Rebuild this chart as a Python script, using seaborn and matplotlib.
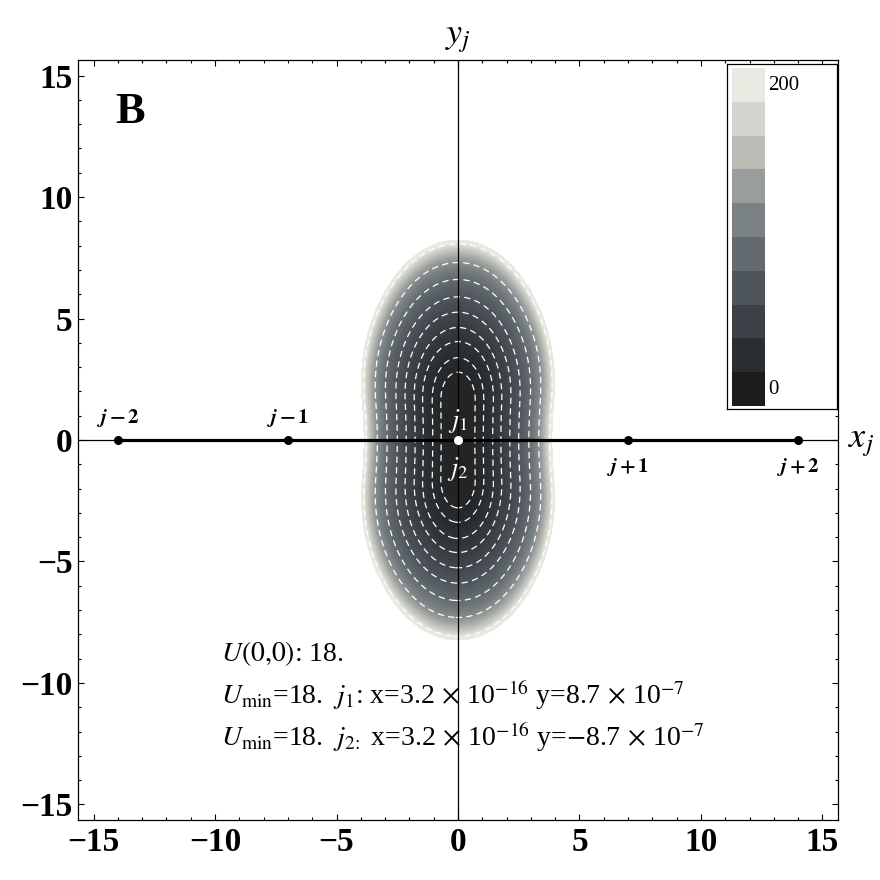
import numpy as np
import matplotlib
matplotlib.use('Agg')
import matplotlib.pyplot as plt
from matplotlib.colors import LinearSegmentedColormap
from matplotlib.ticker import MultipleLocator
import seaborn as sns

# chain sites on the x axis
site_x = [-14, -7, 0, 7, 14]
site_y = [0, 0, 0, 0, 0]
side_labels = [r'$\mathbfit{j}\,\mathbf{-\,2}$', r'$\mathbfit{j}\,\mathbf{-\,1}$',
               r'$\mathbfit{j}\,\mathbf{+\,1}$', r'$\mathbfit{j}\,\mathbf{+\,2}$']

U0 = 18.0
U_cut = 200.0
core_half = 1.6
y_stretch = 1.62
k_quad = 7.2
wall = 64.0
r_wall = 4.1
waist = 0.06
# half widths of the dashed rings, measured at y = -1
ring_halfwidth = [0.70, 1.05, 1.44, 1.78, 2.15, 2.52, 2.94, 3.35, 3.80]

# colour bar (GrayTones)
cbar_levels = [0, 20, 40, 60, 80, 100, 120, 140, 160, 180, 200]
gray_tones = ['#1c1c1c', '#2a2e31', '#3d4248', '#4e555b', '#636b70',
              '#7b8283', '#999e9c', '#babbb5', '#d3d4ce', '#e8e9e0']

ticks = [-15, -10, -5, 0, 5, 10, 15]
tick_labels = ['\u221215', '\u221210', '\u22125', '0', '5', '10', '15']

info_lines = [
    r'$U(\mathit{0{,}0})$: 18.',
    r'$U_{\mathrm{min}}$=18.  $j_1$: x=3.2$\,\times\,$10$^{-16}$ y=8.7$\,\times\,$10$^{-7}$',
    r'$U_{\mathrm{min}}$=18.  $j_{2\!:}$ x=3.2$\,\times\,$10$^{-16}$ y=$-$8.7$\,\times\,$10$^{-7}$',
]


def potential(x, y):
    xs = x * (1 + waist * np.exp(-(y / 2.5) ** 2))
    ys = np.clip(np.abs(y) - core_half, 0, None) / y_stretch
    d = np.hypot(xs, ys)
    return U0 + k_quad * d ** 2 + wall * (d / r_wall) ** 12


sns.set_style('ticks')
plt.rcParams['font.family'] = ['Liberation Serif', 'DejaVu Serif']
plt.rcParams['mathtext.fontset'] = 'stix'
for key in ['text.color', 'xtick.color', 'ytick.color', 'axes.labelcolor', 'axes.edgecolor']:
    plt.rcParams[key] = 'black'

cmap = LinearSegmentedColormap.from_list(
    'graytones',
    [(0, gray_tones[0])] + [((i + 0.5) / 10, c) for i, c in enumerate(gray_tones)] + [(1, gray_tones[-1])])

fig = plt.figure(figsize=(8.8, 8.8), dpi=100)
ax = fig.add_axes([78 / 880, 60 / 880, 760 / 880, 760 / 880])
lim = 15.64

xg = np.linspace(-5, 5, 801)
yg = np.linspace(-9.5, 9.5, 1201)
X, Y = np.meshgrid(xg, yg)
U = potential(X, Y)

cf = ax.contourf(X, Y, U, levels=np.linspace(0, U_cut, 101), cmap=cmap, vmin=0, vmax=U_cut, zorder=1)
cf.set_edgecolor('face')
cf.set_linewidth(0.3)

ring_levels = sorted(potential(np.array(ring_halfwidth), -1.0))
ax.contour(X, Y, U, levels=ring_levels, colors='white', linewidths=0.9,
           linestyles=[(0, (5, 3.5))], zorder=2)

ax.axhline(0, color='black', lw=0.9, zorder=3)
ax.axvline(0, color='black', lw=0.9, zorder=3)

sns.lineplot(x=site_x, y=site_y, color='black', linewidth=2.3, sort=False, ax=ax, zorder=4)
outer_x = [v for v in site_x if v != 0]
sns.scatterplot(x=outer_x, y=[0] * len(outer_x), color='black', s=42, edgecolor='black',
                linewidth=0, ax=ax, zorder=5)
sns.scatterplot(x=[0], y=[0], color='white', s=42, edgecolor='white', linewidth=0, ax=ax, zorder=6)

for xv, lab in zip(outer_x, side_labels):
    if xv < 0:
        ax.text(xv, 0.68, lab, ha='center', va='baseline', fontsize=15, zorder=7)
    else:
        ax.text(xv, -1.33, lab, ha='center', va='baseline', fontsize=15, zorder=7)

ax.text(0, 0.55, r'$j_1$', color='white', ha='center', va='baseline', fontsize=19, zorder=7)
ax.text(0, -1.45, r'$j_2$', color='white', ha='center', va='baseline', fontsize=19, zorder=7)

ax.text(-13.5, 13.5, 'B', fontsize=32, fontweight='bold', ha='center', va='center')

for i, line in enumerate(info_lines):
    ax.text(-9.75, -9.1 - 1.75 * i, line, fontsize=20, ha='left', va='baseline')

ax.text(0, 16.34, r'$y_j$', fontsize=26, ha='center', va='baseline', clip_on=False)
ax.text(16.05, -0.3, r'$x_j$', fontsize=26, ha='left', va='baseline', clip_on=False)

ax.set_xlim(-lim, lim)
ax.set_ylim(-lim, lim)
ax.set_xticks(ticks, labels=tick_labels, fontweight='bold', fontsize=24)
ax.set_yticks(ticks, labels=tick_labels, fontweight='bold', fontsize=24)
ax.xaxis.set_minor_locator(MultipleLocator(1))
ax.yaxis.set_minor_locator(MultipleLocator(1))
ax.tick_params(which='both', direction='in', top=True, right=True, width=0.8, color='black',
               labelcolor='black')
ax.tick_params(which='major', length=4.5)
ax.tick_params(which='minor', length=2.3)
ax.tick_params(axis='x', pad=5)
ax.tick_params(axis='y', pad=4)
for sp in ax.spines.values():
    sp.set_linewidth(0.9)
    sp.set_color('black')

# colour bar legend
box = fig.add_axes([727 / 880, 1 - 409 / 880, 110 / 880, 345 / 880])
box.set_facecolor('white')
box.set_xticks([])
box.set_yticks([])
for sp in box.spines.values():
    sp.set_linewidth(0.9)
    sp.set_color('black')

band_mid = [(a + b) / 2 for a, b in zip(cbar_levels[:-1], cbar_levels[1:])]
band_ax = fig.add_axes([732 / 880, 1 - 406 / 880, 33 / 880, 338 / 880])
sns.heatmap(np.array(band_mid[::-1]).reshape(-1, 1), cmap=cmap, vmin=0, vmax=U_cut,
            cbar=False, ax=band_ax, xticklabels=False, yticklabels=False)
fig.text(768 / 880, 1 - 86 / 880, str(cbar_levels[-1]), fontsize=15, ha='left', va='center')
fig.text(768 / 880, 1 - 390 / 880, str(cbar_levels[0]), fontsize=15, ha='left', va='center')

fig.savefig('out.png', dpi=100, facecolor='white')
